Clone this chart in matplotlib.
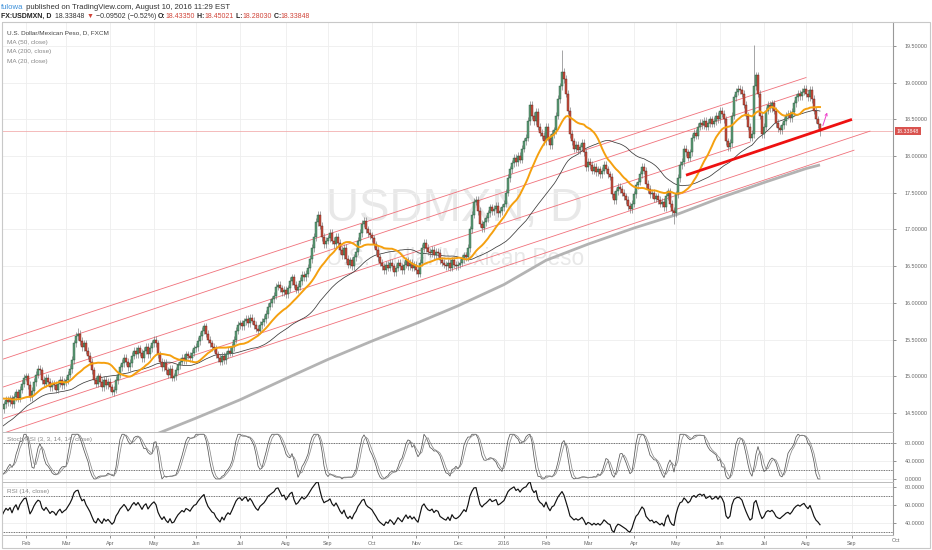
import numpy as np
import pandas as pd
import matplotlib
matplotlib.use("Agg")
import matplotlib.pyplot as plt
import matplotlib.transforms as mtransforms
from matplotlib.patches import Rectangle

plt.rcParams['font.family'] = ['Liberation Sans', 'DejaVu Sans']

# ---------------- data ----------------
# closes before the visible window (only used to warm up the indicators)
closes_pre = [13.62, 13.65, 13.55, 13.60, 13.68, 13.75, 13.72, 13.60, 13.55, 13.58, 13.60, 13.62, 13.70, 13.75, 13.80, 13.85, 13.90, 13.95,
              14.05, 14.15, 14.20, 14.18, 14.30, 14.45, 14.55, 14.62, 14.70, 14.78, 14.62, 14.55, 14.60, 14.68, 14.72, 14.65, 14.70, 14.75, 14.78, 14.72, 14.74, 14.68, 14.75,
              14.74, 14.80, 14.85, 14.78, 14.72, 14.68, 14.62, 14.55, 14.60]

closes_2015 = [
    14.62, 14.55, 14.62, 14.68, 14.65, 14.70, 14.62, 14.72, 14.78, 14.70, 14.82, 14.90, 14.98,                                   # Jan (from 14th)
    15.00, 14.88, 14.72, 14.80, 14.92, 15.02, 15.10, 15.08, 14.95, 14.90, 14.98, 14.92, 14.85, 14.90, 14.88, 14.82, 14.90, 14.95, 14.88, 14.92,  # Feb
    14.95, 15.02, 15.10, 15.22, 15.45, 15.55, 15.58, 15.48, 15.40, 15.45, 15.35, 15.28, 15.20, 15.08, 14.95, 14.90, 15.00, 14.92, 14.85, 14.95, 14.88, 14.92,  # Mar
    14.85, 14.78, 14.82, 14.95, 15.02, 15.12, 15.18, 15.25, 15.20, 15.12, 15.18, 15.28, 15.35, 15.30, 15.38, 15.32, 15.25, 15.35, 15.40, 15.30, 15.38, 15.45,  # Apr
    15.50, 15.45, 15.30, 15.20, 15.12, 15.18, 15.08, 15.02, 15.10, 14.98, 15.00, 15.08, 15.15, 15.20, 15.25, 15.22, 15.30, 15.28, 15.25, 15.32, 15.38,  # May
    15.40, 15.48, 15.55, 15.62, 15.68, 15.58, 15.50, 15.45, 15.40, 15.38, 15.30, 15.25, 15.20, 15.28, 15.22, 15.30, 15.35, 15.32, 15.40, 15.50, 15.62, 15.70,  # Jun
    15.72, 15.68, 15.75, 15.78, 15.72, 15.80, 15.76, 15.70, 15.65, 15.62, 15.70, 15.74, 15.78, 15.85, 15.95, 16.00, 16.05, 16.10, 16.22, 16.25, 16.20, 16.15, 16.18,  # Jul
    16.12, 16.20, 16.30, 16.35, 16.25, 16.18, 16.22, 16.30, 16.38, 16.35, 16.40, 16.48, 16.60, 16.75, 16.90, 17.10, 17.20, 17.05, 16.90, 16.80, 16.85,  # Aug
    16.88, 16.95, 16.85, 16.80, 16.90, 16.82, 16.72, 16.65, 16.75, 16.60, 16.52, 16.58, 16.50, 16.62, 16.70, 16.85, 16.95, 17.08, 17.12, 17.00, 16.95, 16.92,  # Sep
    16.88, 16.80, 16.72, 16.62, 16.55, 16.50, 16.45, 16.52, 16.48, 16.55, 16.50, 16.42, 16.48, 16.55, 16.50, 16.45, 16.52, 16.58, 16.50, 16.55, 16.48, 16.52,  # Oct
    16.45, 16.40, 16.55, 16.75, 16.82, 16.75, 16.70, 16.68, 16.72, 16.65, 16.70, 16.68, 16.58, 16.55, 16.52, 16.50, 16.55, 16.48, 16.58, 16.52, 16.50,  # Nov
    16.52, 16.55, 16.60, 16.65, 16.62, 16.75, 17.00, 17.20, 17.38, 17.40, 17.25, 17.08, 17.02, 17.10, 17.15, 17.22, 17.30, 17.25, 17.28, 17.32, 17.22, 17.25, 17.30,  # Dec
]
closes_2016 = [
    17.35, 17.50, 17.70, 17.82, 17.90, 17.98, 17.92, 18.00, 17.95, 18.10, 18.20, 18.25, 18.48, 18.70, 18.55, 18.48, 18.60, 18.40, 18.32, 18.28, 18.20,  # Jan
    18.40, 18.25, 18.15, 18.30, 18.35, 18.55, 18.78, 18.95, 19.15, 19.05, 18.85, 18.62, 18.30, 18.20, 18.10, 18.15, 18.08, 18.12, 18.18, 18.05, 17.85,  # Feb
    17.92, 17.88, 17.80, 17.85, 17.78, 17.82, 17.75, 17.80, 17.88, 17.82, 17.75, 17.72, 17.48, 17.40, 17.52, 17.58, 17.55, 17.50, 17.45, 17.40, 17.32, 17.28, 17.35,  # Mar
    17.48, 17.60, 17.65, 17.75, 17.85, 17.80, 17.62, 17.55, 17.48, 17.50, 17.42, 17.45, 17.40, 17.35, 17.38, 17.30, 17.45, 17.52, 17.35, 17.25, 17.22,  # Apr
    17.48, 17.70, 17.88, 17.92, 18.10, 18.05, 17.98, 18.05, 18.25, 18.32, 18.28, 18.40, 18.45, 18.42, 18.48, 18.40, 18.45, 18.50, 18.44, 18.48, 18.55, 18.50,  # May
    18.62, 18.58, 18.50, 18.20, 18.12, 18.18, 18.55, 18.80, 18.88, 18.92, 18.90, 18.85, 18.70, 18.55, 18.40, 18.25, 18.30, 18.95, 19.10, 18.85, 18.55, 18.30,  # Jun
    18.40, 18.62, 18.70, 18.65, 18.72, 18.62, 18.45, 18.38, 18.35, 18.42, 18.48, 18.55, 18.58, 18.52, 18.60, 18.72, 18.80, 18.85, 18.82, 18.88, 18.92,  # Jul
    18.85, 18.80, 18.90, 18.78, 18.62, 18.50, 18.4335, 18.33848,  # Aug 1-10
]
first_date = '2015-01-14'
last_date = '2016-08-10'
axis_end_date = '2016-10-31'

typical_wick = 0.05
spike_highs = {'2016-02-11': 19.44, '2016-06-24': 19.52, '2015-03-10': 15.66, '2016-08-10': 18.45021}
spike_lows = {'2016-04-29': 17.07, '2016-08-10': 18.28030, '2015-04-02': 14.74}

# MA(200)
ma200_dates = ['2015-04-01', '2015-05-01', '2015-06-01', '2015-07-01', '2015-08-03', '2015-09-01', '2015-10-01',
               '2015-11-02', '2015-12-01', '2016-01-01', '2016-02-01', '2016-03-01', '2016-04-01', '2016-05-02',
               '2016-06-01', '2016-07-01', '2016-08-01', '2016-08-10']
ma200_vals = [13.97, 14.20, 14.43, 14.68, 14.97, 15.23, 15.48, 15.72, 15.96, 16.25, 16.58, 16.80, 17.02, 17.20,
              17.43, 17.64, 17.83, 17.88]

# drawn trend / channel lines: (start date, start price, end date, end price)
channel_start = ['2015-01-14'] * 5
channel_start_p = [15.47, 15.22, 14.84, 14.41, 14.21]
channel_end = ['2016-08-01', '2016-08-03', '2016-06-22', '2016-09-14', '2016-09-02']
channel_end_p = [19.07, 18.90, 18.19, 18.34, 18.08]
support_dates = ['2016-05-09', '2016-09-01']
support_prices = [17.74, 18.50]
arrow_dates = ['2016-08-11', '2016-08-16']
arrow_prices = [18.38, 18.63]

# ---------------- derived ----------------
closes = np.array(closes_2015 + closes_2016)
dates = pd.bdate_range(first_date, last_date)
assert len(dates) == len(closes), (len(dates), len(closes))
all_dates = pd.bdate_range(first_date, axis_end_date)
pos = {d.strftime('%Y-%m-%d'): i for i, d in enumerate(all_dates)}
n = len(closes)
x = np.arange(n)

opens = np.r_[closes_pre[-1], closes[:-1]]
highs = np.maximum(opens, closes) + typical_wick
lows = np.minimum(opens, closes) - typical_wick
for d, v in spike_highs.items():
    highs[pos[d]] = v
for d, v in spike_lows.items():
    lows[pos[d]] = v

full = pd.Series(list(closes_pre) + list(closes))
npre = len(closes_pre)
ma20 = full.rolling(20).mean().values[npre:]
ma50 = full.rolling(50).mean().values[npre:]
delta = full.diff().fillna(0)
gain = delta.clip(lower=0)
loss = -delta.clip(upper=0)
ag = gain.ewm(alpha=1 / 14, adjust=False).mean()
al = loss.ewm(alpha=1 / 14, adjust=False).mean()
rsi = 100 - 100 / (1 + ag / al)
lo = rsi.rolling(14).min()
hi = rsi.rolling(14).max()
stoch = 100 * (rsi - lo) / (hi - lo)
k_line = stoch.rolling(3).mean()
d_line = k_line.rolling(3).mean()
rsi_v = rsi.values[npre:]
k_v = k_line.values[npre:]
d_v = d_line.values[npre:]

# ---------------- figure ----------------
W, H = 932, 550
fig = plt.figure(figsize=(W / 100, H / 100), dpi=100)
fig.patch.set_facecolor('white')

def fy(py):
    return 1 - py / H

L = 2 / W
AW = (893 - 2) / W
ax = fig.add_axes([L, fy(432), AW, 410 / H])
ax_s = fig.add_axes([L, fy(482), AW, 50 / H], sharex=ax)
ax_r = fig.add_axes([L, fy(535), AW, 53 / H], sharex=ax)

ax.set_xlim(1.0, 446.5)
ax.set_ylim(14.241, 19.827)
ax_s.set_ylim(-6.86, 105.1)
ax_r.set_ylim(26.67, 85.56)

# month ticks
month_idx, month_lab = [], []
for i in range(1, len(all_dates)):
    if all_dates[i].month != all_dates[i - 1].month:
        month_idx.append(i)
        month_lab.append(str(all_dates[i].year) if all_dates[i].month == 1 else all_dates[i].strftime('%b'))
xmax = ax.get_xlim()[1]
vis_idx = [m for m in month_idx if m <= xmax]
vis_lab = [l for m, l in zip(month_idx, month_lab) if m <= xmax]
ax_r.set_xticks(vis_idx)
ax_r.set_xticklabels(vis_lab)

grid_c = '#eeeeee'
for a in (ax, ax_s, ax_r):
    a.grid(True, color=grid_c, lw=0.6, zorder=0)
    a.set_axisbelow(True)
    a.yaxis.tick_right()
    a.tick_params(axis='y', labelsize=3.9, colors='#666666', length=2.5, width=0.5, pad=6)
    for side in ('top', 'left', 'bottom'):
        a.spines[side].set_color('#bbbbbb')
        a.spines[side].set_linewidth(0.7)
    a.spines['right'].set_color('#999999')
    a.spines['right'].set_linewidth(0.8)
for a in (ax, ax_s):
    a.tick_params(axis='x', labelbottom=False, length=0)
ax_r.tick_params(axis='x', labelsize=3.9, colors='#666666', length=2, width=0.5, pad=2)

ax.set_yticks(np.arange(14.5, 19.51, 0.5))
ax.yaxis.set_major_formatter(matplotlib.ticker.FormatStrFormatter('%.5f'))
ax_s.set_yticks([0, 40, 80])
ax_s.yaxis.set_major_formatter(matplotlib.ticker.FormatStrFormatter('%.4f'))
ax_r.set_yticks([40, 60, 80])
ax_r.yaxis.set_major_formatter(matplotlib.ticker.FormatStrFormatter('%.4f'))

# month labels beyond visible range (e.g. Oct at the price-scale edge)
bt = mtransforms.blended_transform_factory(ax_r.transData, ax_r.transAxes)
for m, l in zip(month_idx, month_lab):
    if xmax < m <= xmax + 5:
        ax_r.text(m, -0.06, l, transform=bt, ha='center', va='top', fontsize=3.9, color='#666666', clip_on=False)

# watermark
ax.text(0.508, 0.545, 'USDMXN, D', transform=ax.transAxes, ha='center', va='center', fontsize=33,
        color='#e8e8e8', zorder=0.5)
ax.text(0.508, 0.424, 'U.S. Dollar/Mexican Peso', transform=ax.transAxes, ha='center', va='center', fontsize=16.3,
        color='#e8e8e8', zorder=0.5)

# channel lines
for s, sp, e, ep in zip(channel_start, channel_start_p, channel_end, channel_end_p):
    ax.plot([pos[s], pos[e]], [sp, ep], color='#f0707a', lw=0.6, zorder=2)

# moving averages
ax.plot([pos[d] for d in ma200_dates], ma200_vals, color='#b3b3b3', lw=2.0, zorder=2, solid_capstyle='butt',
        solid_joinstyle='round')
ax.plot(x, ma50, color='#3a3a3a', lw=0.55, zorder=3)

# candles
up = closes >= opens
ax.vlines(x, lows, highs, color='#737375', lw=0.45, zorder=4)
ax.bar(x[up], (closes - opens)[up], bottom=opens[up], width=0.72, color='#5f9c78', edgecolor='#225437', lw=0.3, zorder=5)
ax.bar(x[~up], (closes - opens)[~up], bottom=opens[~up], width=0.72, color='#c9503f', edgecolor='#5b1a13', lw=0.3, zorder=5)

ax.plot(x, ma20, color='#f5a00f', lw=1.4, zorder=6)

# last price line + label
last = closes[-1]
ax.axhline(last, color='#f0a0a0', lw=0.5, zorder=1)
bt_main = mtransforms.blended_transform_factory(ax.transAxes, ax.transData)
ax.text(1.004, last, f'{last:.5f}', transform=bt_main, ha='left', va='center', fontsize=3.8, color='white',
        bbox=dict(boxstyle='square,pad=0.3', fc='#d9534f', ec='none'), clip_on=False, zorder=10)

# support line and arrow
ax.plot([pos[d] for d in support_dates], support_prices, color='#ee1111', lw=2.0, zorder=7, solid_capstyle='butt')
ax.annotate('', xy=(pos[arrow_dates[1]], arrow_prices[1]), xytext=(pos[arrow_dates[0]], arrow_prices[0]),
            arrowprops=dict(arrowstyle='->', color='#ee44cc', lw=0.7, mutation_scale=4), zorder=8)

# legend texts
leg_fs = 4.6
ax.text(0.0056, 1 - 11 / 410, 'U.S. Dollar/Mexican Peso, D, FXCM', transform=ax.transAxes, fontsize=leg_fs,
        color='#444444', va='center', ha='left')
for k, t in enumerate(['MA (50, close)', 'MA (200, close)', 'MA (20, close)']):
    ax.text(0.0056, 1 - (20.5 + 9.5 * k) / 410, t, transform=ax.transAxes, fontsize=leg_fs, color='#888888',
            va='center', ha='left')

# Stoch RSI pane
ax_s.plot(x, k_v, color='#555555', lw=0.55, zorder=3)
ax_s.plot(x, d_v, color='#8a8a8a', lw=0.55, zorder=3)
for lv in (80, 20):
    ax_s.axhline(lv, color='#444444', lw=0.6, ls=(0, (1, 1)), zorder=2)
ax_s.text(0.0056, 1 - 7 / 50, 'Stoch RSI (3, 3, 14, 14, close)', transform=ax_s.transAxes, fontsize=leg_fs,
          color='#888888', va='center', ha='left')

# RSI pane
ax_r.plot(x, rsi_v, color='#111111', lw=0.85, zorder=3)
for lv in (70, 30):
    ax_r.axhline(lv, color='#444444', lw=0.6, ls=(0, (1, 1)), zorder=2)
ax_r.text(0.0056, 1 - 9 / 53, 'RSI (14, close)', transform=ax_r.transAxes, fontsize=leg_fs,
          color='#888888', va='center', ha='left')

# outer frame
fig.add_artist(Rectangle((2 / W, fy(548)), (930 - 2) / W, (548 - 22) / H, transform=fig.transFigure,
                         fill=False, ec='#c8c8c8', lw=0.8))

# header
def chain2(parts, x0, y0, fs):
    t = fig.text(x0, y0, parts[0][0], color=parts[0][1], fontweight=parts[0][2], fontsize=fs, va='bottom', ha='left')
    for s, c, w in parts[1:]:
        t = ax.annotate(s, xy=(1, 0), xycoords=t, xytext=(0, 0), textcoords='offset points', color=c,
                        fontweight=w, fontsize=fs, va='bottom', ha='left', annotation_clip=False)
    return t

chain2([('fulowa', '#3b8fd9', 'normal'),
        (' published on TradingView.com, August 10, 2016 11:29 EST', '#333333', 'normal')],
       1 / W, fy(11), 5.6)
red = '#d0453a'
chain2([('FX:USDMXN, D', '#222222', 'bold'), ('  18.33848 ', '#333333', 'normal'), ('▼', red, 'normal'),
        (' \u22120.09502 (\u22120.52%) ', '#333333', 'normal'), ('O:', '#222222', 'bold'), ('18.43350', red, 'normal'),
        (' H:', '#222222', 'bold'), ('18.45021', red, 'normal'), (' L:', '#222222', 'bold'), ('18.28030', red, 'normal'),
        (' C:', '#222222', 'bold'), ('18.33848', red, 'normal')],
       1 / W, fy(20), 5.0)

fig.savefig('out.png', dpi=100)
